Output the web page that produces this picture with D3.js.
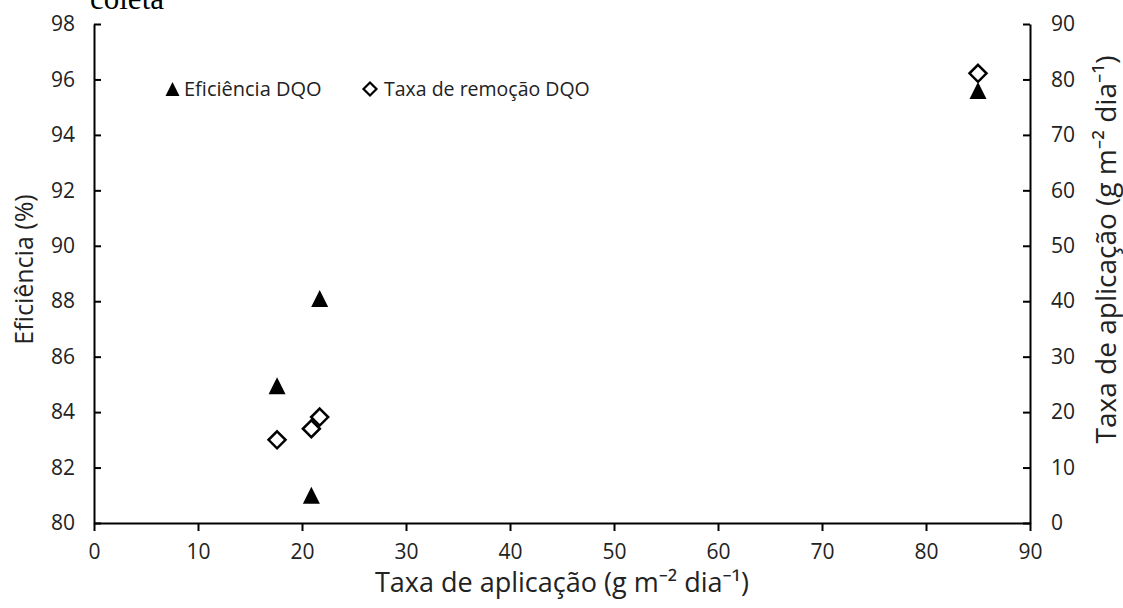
<!DOCTYPE html>
<meta charset="utf-8">
<script src="https://d3js.org/d3.v7.min.js"></script>
<style>
  body { margin: 0; background: #fff; }
  svg { display: block; }
</style>
<div id="chart"></div>
<script>

// taxa de aplicação (x) for each sample
var taxaAplicacao = [17.6, 20.9, 21.7, 85.0];
// Eficiência DQO (%), left axis
var eficienciaDQO = [84.95, 81.0, 88.1, 95.6];
// Taxa de remoção DQO, right axis
var remocaoDQO = [15.0, 17.0, 19.1, 81.1];

var xTicks = [0, 10, 20, 30, 40, 50, 60, 70, 80, 90];
var yLeftTicks = [80, 82, 84, 86, 88, 90, 92, 94, 96, 98];
var yRightTicks = [0, 10, 20, 30, 40, 50, 60, 70, 80, 90];

var seriesNames = ["Eficiência DQO", "Taxa de remoção DQO"];

var W = 1123, H = 608;
var margin = {top: 24, right: 93, bottom: 85, left: 94},
    width = W - margin.left - margin.right,
    height = H - margin.top - margin.bottom;

var font = "'Open Sans', 'Noto Sans', sans-serif";

var x = d3.scaleLinear().domain([0, 90]).range([0, width]);
var yL = d3.scaleLinear().domain([80, 98]).range([height, 0]);
var yR = d3.scaleLinear().domain([0, 90]).range([height, 0]);

var svg = d3.select("#chart").append("svg")
    .attr("width", W)
    .attr("height", H);

// leftover caption text from the page above the chart (cut off in the original too)
svg.append("text")
    .attr("x", 90)
    .attr("y", 9)
    .style("font-family", "'Liberation Serif', serif")
    .style("font-size", "31px")
    .text("coleta");

var g = svg.append("g")
    .attr("transform", "translate(" + margin.left + "," + margin.top + ")");

var xAxis = d3.axisBottom(x).tickValues(xTicks).tickSize(8).tickPadding(13).tickSizeOuter(0);
var yAxisL = d3.axisLeft(yL).tickValues(yLeftTicks).tickSize(-7).tickPadding(19).tickSizeOuter(0);
var yAxisR = d3.axisRight(yR).tickValues(yRightTicks).tickSize(-7).tickPadding(21).tickSizeOuter(0);

function styleAxis(sel) {
  sel.selectAll("path, line").attr("stroke", "#000").attr("stroke-width", 2);
  sel.selectAll("text")
      .attr("fill", "#222")
      .style("font-family", font)
      .style("font-size", "21px");
}

g.append("g")
    .attr("transform", "translate(0," + height + ")")
    .call(xAxis)
    .call(styleAxis);

g.append("g")
    .call(yAxisL)
    .call(styleAxis);

g.append("g")
    .attr("transform", "translate(" + width + ",0)")
    .call(yAxisR)
    .call(styleAxis);

// axis titles
svg.append("text")
    .attr("x", margin.left + width / 2)
    .attr("y", 592)
    .attr("text-anchor", "middle")
    .attr("fill", "#222")
    .style("font-family", font)
    .style("font-size", "27px")
    .text("Taxa de aplicação (g m⁻² dia⁻¹)");

svg.append("text")
    .attr("transform", "translate(33," + (margin.top + height / 2 - 4) + ") rotate(-90)")
    .attr("text-anchor", "middle")
    .attr("fill", "#222")
    .style("font-family", font)
    .style("font-size", "25px")
    .text("Eficiência (%)");

svg.append("text")
    .attr("transform", "translate(1116," + (margin.top + height / 2 - 24) + ") rotate(-90)")
    .attr("text-anchor", "middle")
    .attr("fill", "#222")
    .style("font-family", font)
    .style("font-size", "28px")
    .text("Taxa de aplicação (g m⁻² dia⁻¹)");

// marker shapes, centred on the data position
function triangle(cx, cy, s) {
  return "M" + (cx - s / 2) + "," + (cy + s / 2) +
         "L" + cx + "," + (cy - s / 2) +
         "L" + (cx + s / 2) + "," + (cy + s / 2) + "Z";
}
function diamond(cx, cy, s) {
  return "M" + cx + "," + (cy - s / 2) +
         "L" + (cx + s / 2) + "," + cy +
         "L" + cx + "," + (cy + s / 2) +
         "L" + (cx - s / 2) + "," + cy + "Z";
}

var pts = taxaAplicacao.map(function(d, i) {
  return {x: d, ef: eficienciaDQO[i], rem: remocaoDQO[i]};
});

g.selectAll(".rem")
    .data(pts)
  .enter().append("path")
    .attr("class", "rem")
    .attr("d", function(d) { return diamond(x(d.x), yR(d.rem), 17); })
    .attr("fill", "#fff")
    .attr("stroke", "#000")
    .attr("stroke-width", 2.5);

g.selectAll(".ef")
    .data(pts)
  .enter().append("path")
    .attr("class", "ef")
    .attr("d", function(d) { return triangle(x(d.x), yL(d.ef), 17); })
    .attr("fill", "#000");

// legend
var legend = svg.append("g").attr("class", "legend");

legend.append("path")
    .attr("d", triangle(172.5, 89, 14))
    .attr("fill", "#000");
legend.append("text")
    .attr("x", 184)
    .attr("y", 96)
    .attr("fill", "#222")
    .style("font-family", font)
    .style("font-size", "20px")
    .text(seriesNames[0]);

legend.append("path")
    .attr("d", diamond(370, 89, 13))
    .attr("fill", "#fff")
    .attr("stroke", "#000")
    .attr("stroke-width", 2.2);
legend.append("text")
    .attr("x", 384)
    .attr("y", 96)
    .attr("fill", "#222")
    .style("font-family", font)
    .style("font-size", "19.5px")
    .text(seriesNames[1]);

</script>
